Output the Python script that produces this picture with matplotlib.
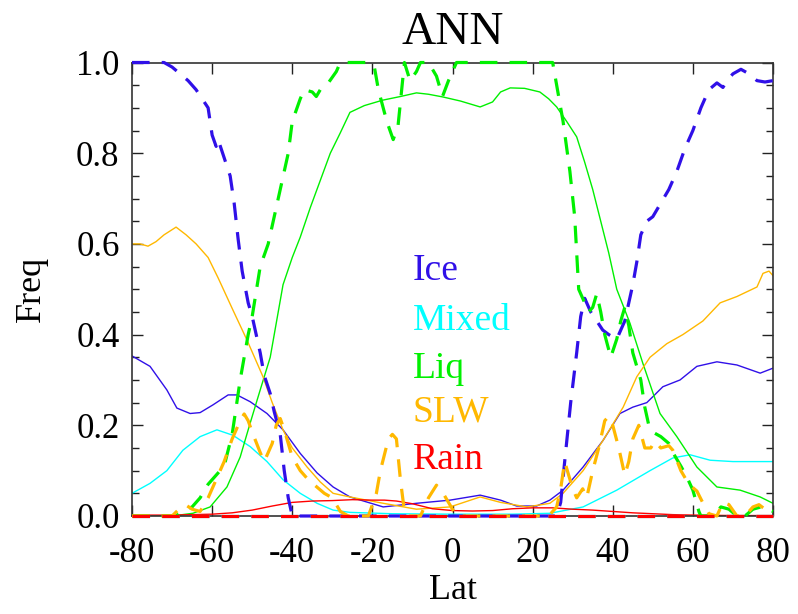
import matplotlib
matplotlib.use("Agg")
import matplotlib.pyplot as plt
from matplotlib.ticker import MultipleLocator

plt.rcParams['font.family'] = ['Liberation Serif', 'DejaVu Serif']

# colours
ICE = "#3010e8"
MIX = "#00ffff"
LIQ = "#00f000"
SLW = "#ffb800"
RAIN = "#ff0000"

# ---- solid lines (all cloud) ----
ice_lat = [-80, -75.5, -71.3, -68.8, -65.5, -63, -59.8, -56, -53.8, -50.5, -46.3, -42.3, -38, -33.8,
           -29.8, -25.6, -17.3, -9, -0.6, 6.9, 12, 16, 21, 24.3, 27.6, 32.6, 37.6, 41.8, 45, 48.5,
           50, 52.5, 56.8, 61, 66, 71, 76.8, 80]
ice_val = [0.353, 0.33, 0.278, 0.238, 0.226, 0.228, 0.245, 0.267, 0.267, 0.252, 0.226, 0.19, 0.138, 0.095,
           0.064, 0.042, 0.02, 0.028, 0.035, 0.046, 0.035, 0.022, 0.022, 0.035, 0.057, 0.108, 0.167, 0.226,
           0.24, 0.25, 0.263, 0.285, 0.3, 0.33, 0.34, 0.333, 0.315, 0.326]

mix_lat = [-80, -75.5, -71.3, -67.3, -63, -58.8, -54.8, -50.5, -46.3, -42.3, -38, -33.8, -29.8, -25.6,
           -15, 0, 15, 24.3, 32.6, 41, 49.3, 55, 59.3, 64.3, 70, 80]
mix_val = [0.05, 0.072, 0.1, 0.145, 0.175, 0.19, 0.178, 0.153, 0.12, 0.08, 0.05, 0.028, 0.013, 0.008,
           0.005, 0.004, 0.004, 0.006, 0.02, 0.057, 0.1, 0.128, 0.135, 0.123, 0.12, 0.12]

liq_lat = [-80, -70, -64.8, -60.5, -56.3, -53, -50.5, -48, -45.5, -42.3, -40, -38, -35.5, -33, -30.5,
           -28, -25.6, -22, -17.4, -13, -9, -6, -2.4, 2, 6.9, 10, 12, 14.4, 18, 21.8, 24, 26, 28.5,
           31, 33, 35, 37, 39, 41, 44.3, 47.5, 51.8, 56, 61, 66, 71.8, 76.8, 80]
liq_val = [0.0, 0.0, 0.006, 0.02, 0.064, 0.13, 0.205, 0.278, 0.35, 0.51, 0.57, 0.615, 0.68, 0.74, 0.8,
           0.845, 0.89, 0.905, 0.917, 0.925, 0.933, 0.93, 0.924, 0.915, 0.902, 0.913, 0.935, 0.944, 0.943,
           0.935, 0.92, 0.902, 0.87, 0.836, 0.78, 0.72, 0.65, 0.58, 0.5, 0.425, 0.337, 0.226, 0.175,
           0.108, 0.064, 0.057, 0.042, 0.028]

slw_lat = [-80, -78, -76, -74, -72, -69, -66.5, -64, -61, -58.5, -54.8, -51.3, -47.3, -45, -42.3,
           -40, -36.3, -33, -29.8, -25.6, -17.3, -9, -0.6, 6.9, 12, 18.6, 24.3, 27.6, 32.6, 37.6,
           42.6, 46, 49.3, 53.5, 57.5, 62.5, 66.8, 71, 76, 77.5, 79, 80]
slw_val = [0.6, 0.6, 0.595, 0.605, 0.62, 0.637, 0.62, 0.6, 0.57, 0.525, 0.454, 0.388, 0.307, 0.25, 0.19,
           0.15, 0.108, 0.075, 0.05, 0.042, 0.028, 0.015, 0.02, 0.042, 0.03, 0.02, 0.028, 0.05, 0.1, 0.167,
           0.24, 0.307, 0.35, 0.38, 0.4, 0.43, 0.47, 0.484, 0.505, 0.535, 0.54, 0.53]

rain_lat = [-80, -70, -60, -55, -50, -45, -40, -35, -30, -25, -20, -17, -14, -10, -5, 0, 5, 10, 15,
            20, 25, 30, 35, 40, 45, 50, 55, 60, 70, 80]
rain_val = [0.002, 0.002, 0.004, 0.007, 0.013, 0.022, 0.03, 0.033, 0.034, 0.036, 0.035, 0.035, 0.033,
            0.027, 0.016, 0.012, 0.011, 0.012, 0.016, 0.018, 0.018, 0.015, 0.013, 0.01, 0.007, 0.005,
            0.003, 0.002, 0.001, 0.001]

# ---- dashed lines (single phase) ----
iced_lat = [-80, -72, -70, -66, -64, -61, -60, -59, -58.5, -57, -55.5, -54.5, -53.5, -52.5, -51, -50,
            -48, -47, -45.5, -44.5, -43, -42, -41, -40, 26, 27, 28, 29.5, 31, 32, 33, 34.5, 36, 37.5,
            39, 41, 43, 44, 45, 46, 47, 48.5, 50, 52, 54, 56, 58, 60, 62, 64, 66, 67.5, 68.5, 70,
            72, 74, 76, 78, 80]
iced_val = [1.0, 1.0, 0.99, 0.96, 0.94, 0.9, 0.84, 0.815, 0.83, 0.79, 0.75, 0.69, 0.61, 0.54, 0.47, 0.44,
            0.36, 0.31, 0.27, 0.23, 0.18, 0.1, 0.04, 0.0, 0.0, 0.03, 0.12, 0.25, 0.36, 0.44, 0.48, 0.45,
            0.43, 0.41, 0.4, 0.39, 0.43, 0.47, 0.51, 0.56, 0.62, 0.65, 0.66, 0.69, 0.72, 0.76, 0.81, 0.85,
            0.9, 0.94, 0.955, 0.945, 0.96, 0.975, 0.985, 0.975, 0.96, 0.957, 0.96]

mixd_lat = [-80, 80]
mixd_val = [0.0, 0.0]

liqd_lat = [-80, -69, -67, -65, -63, -61, -59, -57, -55, -53, -51, -50, -48, -46, -45, -43, -41, -40,
            -38, -37, -35, -34, -33, -31, -29, -28, -21, -19.5, -18.5, -17, -16, -14.8, -13.6, -12.8,
            -12, -10.6, -9, -8, -6, -4, -2.5, -1, 1, 25, 26, 27.6, 29.3, 30.5, 31.5, 32.5, 34, 35,
            36, 37, 38, 39.5, 41, 42, 43, 44, 45, 47, 48, 49, 50, 52, 54, 55, 57, 58.5, 60, 61.5,
            62, 65, 67, 69, 71, 73, 75, 77, 80]
liqd_val = [0.0, 0.0, 0.013, 0.02, 0.04, 0.07, 0.09, 0.11, 0.18, 0.3, 0.4, 0.44, 0.55, 0.6, 0.64, 0.72,
            0.8, 0.87, 0.92, 0.94, 0.935, 0.925, 0.94, 0.955, 0.98, 1.0, 1.0, 0.99, 0.94, 0.89, 0.86,
            0.83, 0.86, 0.93, 1.0, 0.96, 0.98, 1.0, 1.0, 0.97, 0.925, 0.96, 1.0, 1.0, 0.95, 0.87, 0.76,
            0.66, 0.5, 0.48, 0.45, 0.46, 0.49, 0.45, 0.4, 0.35, 0.39, 0.43, 0.46, 0.42, 0.36, 0.3, 0.24,
            0.2, 0.185, 0.175, 0.16, 0.14, 0.11, 0.086, 0.057, 0.01, 0.0, 0.0, 0.02, 0.015, 0.0, 0.0,
            0.015, 0.02, 0.01]

slwd_lat = [-80, -70, -68.5, -66.5, -65, -63, -61, -59, -57, -55, -53, -52, -51, -50, -48, -47, -45,
            -44, -43, -42, -40, -38, -36, -34, -32, -30, -28, -26, -21, -19, -18, -16, -15, -14, -13,
            -12, -11, -8, -6, -4, -2, 0, 1, 24, 26, 27, 28, 29, 30, 31, 32.5, 33.5, 35, 36.5, 38, 39,
            40, 41.5, 43, 44, 45, 46.5, 48, 49.5, 50.5, 52, 54, 55, 57, 59, 61, 63, 64, 66, 67.5, 69,
            71, 73, 75, 76.5, 78, 80]
slwd_val = [0.0, 0.0, 0.013, 0.024, 0.015, 0.01, 0.04, 0.08, 0.12, 0.17, 0.21, 0.225, 0.21, 0.185, 0.14,
            0.12, 0.16, 0.2, 0.215, 0.19, 0.13, 0.1, 0.08, 0.065, 0.05, 0.04, 0.01, 0.0, 0.0, 0.05, 0.1,
            0.17, 0.18, 0.17, 0.08, 0.01, 0.0, 0.0, 0.04, 0.068, 0.045, 0.015, 0.0, 0.0, 0.02, 0.06,
            0.12, 0.09, 0.06, 0.04, 0.06, 0.04, 0.1, 0.15, 0.21, 0.22, 0.2, 0.15, 0.09, 0.12, 0.17, 0.2,
            0.15, 0.15, 0.165, 0.15, 0.155, 0.145, 0.1, 0.07, 0.055, 0.02, 0.005, 0.0, 0.03, 0.025, 0.0,
            0.0, 0.02, 0.025, 0.015, 0.01]

raind_lat = [-80, 80]
raind_val = [0.0, 0.0]

labels = ["Ice", "Mixed", "Liq", "SLW", "Rain"]
colors = [ICE, MIX, LIQ, SLW, RAIN]
label_y = [0.54, 0.43, 0.325, 0.228, 0.125]

fig = plt.figure(figsize=(7.98, 6.14), dpi=100)
ax = fig.add_axes([132 / 798, 98 / 614, 641 / 798, 453.5 / 614])

solid = [(ice_lat, ice_val), (mix_lat, mix_val), (liq_lat, liq_val), (slw_lat, slw_val), (rain_lat, rain_val)]
dashed = [(iced_lat, iced_val), (mixd_lat, mixd_val), (liqd_lat, liqd_val), (slwd_lat, slwd_val),
          (raind_lat, raind_val)]

for (x, y), c in zip(solid, colors):
    ax.plot(x, y, color=c, lw=1.0)
for (x, y), c in zip(dashed, colors):
    ax.plot(x, y, color=c, lw=2.3, linestyle=(0, (5.5, 3.8)), clip_on=False,
            solid_capstyle="butt", zorder=3)

for lab, c, yy in zip(labels, colors, label_y):
    ax.text(-10, yy, lab, color=c, fontsize=27, va="center", ha="left")

ax.set_xlim(-80, 80)
ax.set_ylim(0, 1.0)
ax.yaxis.set_minor_locator(MultipleLocator(0.05))
ax.set_yticks([0, 0.2, 0.4, 0.6, 0.8, 1.0])
ax.set_yticklabels(["0.0", "0.2", "0.4", "0.6", "0.8", "1.0"])
ax.set_xticks([-80, -60, -40, -20, 0, 20, 40, 60, 80])
ax.set_xticklabels(["-80", "-60", "-40", "-20", "0", "20", "40", "60", "80"])

ax.tick_params(which="both", direction="in", top=True, right=True, width=1.0, color="#222222")
ax.tick_params(which="major", length=8)
ax.tick_params(which="minor", length=5)
ax.tick_params(axis="x", labelsize=25, pad=15)
ax.tick_params(axis="y", labelsize=25, pad=9)
for s in ax.spines.values():
    s.set_linewidth(1.2)
    s.set_color("#333333")

ax.set_xlabel("Lat", fontsize=26, labelpad=3)
ax.set_ylabel("Freq", fontsize=26, labelpad=20)
ax.set_title("ANN", fontsize=34, pad=13)

fig.savefig("out.png", dpi=100)
